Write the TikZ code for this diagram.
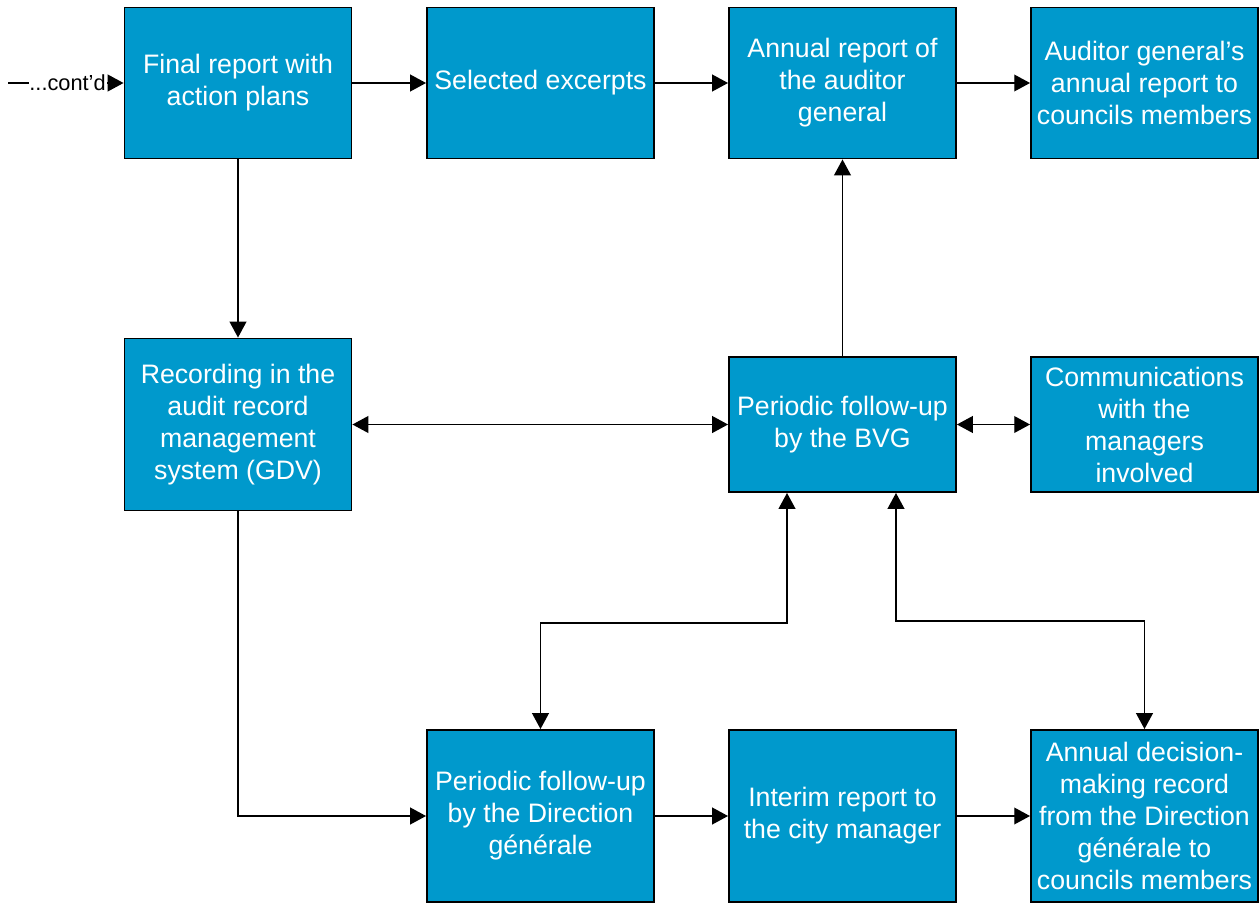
\documentclass[tikz,border=0pt]{standalone}
\usepackage{fontspec}
\setmainfont{Liberation Sans}
\usetikzlibrary{arrows.meta}
\definecolor{boxblue}{RGB}{0,153,204}

\begin{document}
\begin{tikzpicture}[x=0.02cm,y=-0.02cm,
	stage/.style={draw=black,line width=1.1pt,fill=boxblue,text=white,align=center,
		minimum width=4.54cm,inner sep=2pt,font=\fontsize{15.2}{18.2}\selectfont},
	flow/.style={-{Triangle[length=9pt,width=9.5pt]},line width=0.85pt},
	both/.style={{Triangle[length=9pt,width=9.5pt]}-{Triangle[length=9pt,width=9.5pt]},line width=0.85pt}]
	\useasboundingbox (0,0) rectangle (1259,903);
	% top row
	\node[stage,minimum height=3.02cm] (final) at (238,83) {Final report with\\action plans};
	\node[stage,minimum height=3.02cm] (excerpts) at (540.5,83) {Selected excerpts};
	\node[stage,minimum height=3.02cm] (annual) at (842.5,83) {Annual report of\\the auditor\\general};
	\node[stage,minimum height=3.02cm] (auditor) at (1144.5,83) {Auditor general’s\\annual report to\\councils members};
	% middle row
	\node[stage,minimum height=3.44cm] (gdv) at (238,424.5) {Recording in the\\audit record\\management\\system (GDV)};
	\node[stage,minimum height=2.7cm] (bvg) at (842.5,424.5) {Periodic follow-up\\by the BVG};
	\node[stage,minimum height=2.7cm] (comms) at (1144.5,424.5) {Communications\\with the\\managers\\involved};
	% bottom row
	\node[stage,minimum height=3.44cm] (direction) at (540.5,816) {Periodic follow-up\\by the Direction\\générale};
	\node[stage,minimum height=3.44cm] (interim) at (842.5,816) {Interim report to\\the city manager};
	\node[stage,minimum height=3.44cm] (decision) at (1144.5,816) {Annual decision-\\making record\\from the Direction\\générale to\\councils members};

	\coordinate (cont) at (8,83);
	\draw[flow] (cont) -- node[fill=white,inner sep=0.5pt,xshift=1pt,font=\fontsize{12.4}{14}\selectfont] {...cont’d} (final.west);
	\foreach \from/\to in {final/excerpts,excerpts/annual,annual/auditor,direction/interim,interim/decision}{
		\draw[flow] (\from) -- (\to);
	};
	\draw[flow] (final) -- (gdv);
	\draw[flow] (bvg) -- (annual);
	\draw[both] (gdv) -- (bvg);
	\draw[both] (bvg) -- (comms);
	\draw[flow] (gdv.south) |- (direction.west);
	\draw[both] ([xshift=-1.11cm]bvg.south) -- ++(0,130) -| (direction.north);
	\draw[both] ([xshift=1.07cm]bvg.south) -- ++(0,128) -| (decision.north);
\end{tikzpicture}
\end{document}
